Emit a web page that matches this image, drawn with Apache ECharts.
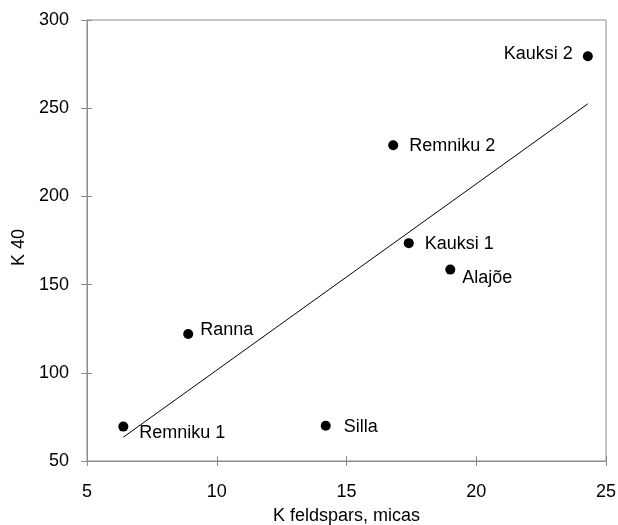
<!DOCTYPE html>
<html><head><meta charset="utf-8">
<script src="https://cdn.jsdelivr.net/npm/echarts@6/dist/echarts.min.js"></script>
<style>html,body{margin:0;padding:0;background:#fff}#c{width:618px;height:525px}</style>
</head><body><div id="c"></div>
<script>
const names = ['Kauksi 2','Remniku 2','Kauksi 1','Alajõe','Ranna','Remniku 1','Silla'];
const kFeldspars = [24.3, 16.8, 17.4, 19.0, 8.9, 6.4, 14.2];
const k40 = [279.5, 229, 173.5, 158.5, 122, 69.5, 70];
const trendX = [6.4, 24.3];
const trendY = [63.5, 252.5];
const xTicks = [5, 10, 15, 20, 25];
const yTicks = [50, 100, 150, 200, 250, 300];

const FF = 'Liberation Sans, Arial, sans-serif';
const labelCfg = {
  'Kauksi 2': {position:'left', distance:10, offset:[0,-2]},
  'Remniku 2': {position:'right', distance:11, offset:[0,1]},
  'Kauksi 1': {position:'right', distance:11, offset:[0,1]},
  'Alajõe': {position:'right', distance:7, offset:[0,8]},
  'Ranna': {position:'right', distance:7, offset:[0,-4]},
  'Remniku 1': {position:'right', distance:11, offset:[0,6]},
  'Silla': {position:'right', distance:13, offset:[0,1]}
};

const pts = names.map((n,i)=>({
  value:[kFeldspars[i], k40[i]], name:n,
  label: Object.assign({show:true, formatter:n, color:'#000', fontSize:18, fontFamily:FF}, labelCfg[n])
}));

const axisLine = {show:true, lineStyle:{color:'#8c8c8c', width:1}};
const font = {color:'#000', fontSize:18, fontFamily:FF};
const chart = echarts.init(document.getElementById('c'), null, {renderer:'canvas'});
chart.setOption({
  animation:false,
  grid:{left:87, right:12, top:20, bottom:64, show:true, borderColor:'#8c8c8c', borderWidth:1,
        containLabel:false, outerBoundsMode:'none'},
  xAxis:[{
    type:'value', min:xTicks[0], max:xTicks[xTicks.length-1], interval:5,
    name:'K feldspars, micas', nameLocation:'middle', nameGap:46,
    nameTextStyle:font,
    axisLine, axisTick:{show:true, length:5, lineStyle:{color:'#8c8c8c'}},
    axisLabel:Object.assign({margin:22}, font), splitLine:{show:false}
  },{
    type:'value', min:xTicks[0], max:xTicks[xTicks.length-1], interval:5, position:'bottom',
    axisLine:{show:false}, axisTick:{show:true, inside:true, length:5, lineStyle:{color:'#8c8c8c'}},
    axisLabel:{show:false}, splitLine:{show:false}
  }],
  yAxis:[{
    type:'value', min:yTicks[0], max:yTicks[yTicks.length-1], interval:50,
    name:'K 40', nameLocation:'middle', nameGap:58, nameRotate:90,
    nameTextStyle:Object.assign({padding:[0,14,0,0]}, font),
    axisLine, axisTick:{show:true, length:6, lineStyle:{color:'#8c8c8c'}},
    axisLabel:Object.assign({margin:18}, font), splitLine:{show:false}
  },{
    type:'value', min:yTicks[0], max:yTicks[yTicks.length-1], interval:50, position:'left',
    axisLine:{show:false}, axisTick:{show:true, inside:true, length:5, lineStyle:{color:'#8c8c8c'}},
    axisLabel:{show:false}, splitLine:{show:false}
  }],
  series:[{
    type:'line', data:trendX.map((x,i)=>[x,trendY[i]]), showSymbol:false, symbol:'none',
    lineStyle:{color:'#000', width:1}, silent:true, z:1
  },{
    type:'scatter', data:pts, symbol:'circle', symbolSize:10,
    itemStyle:{color:'#000', opacity:1}, z:2
  }]
});
</script></body></html>
